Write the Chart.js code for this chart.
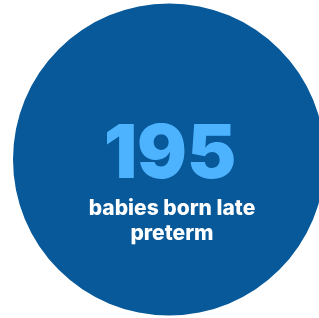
<!DOCTYPE html>
<html>
<head>
<meta charset="utf-8">
<script src="https://cdn.jsdelivr.net/npm/chart.js@4"></script>
<style>
  html, body { margin: 0; padding: 0; background: #ffffff; overflow: hidden; }
  #wrap { width: 338px; height: 318px; }
</style>
</head>
<body>
<div id="wrap"><canvas id="circleChart" width="338" height="318"></canvas></div>
<script>
// data
const categories = ["babies born late preterm"];
const values = [195];
const captionLines = ["babies born late", "preterm"];

// -------------------------
// CENTER TEXT
// -------------------------
const centerText = {
    id: "centerText",
    afterDraw(chart) {
        const ctx = chart.ctx;
        const area = chart.chartArea;
        const cx = (area.left + area.right) / 2 + 1;
        ctx.save();
        ctx.textAlign = "center";
        ctx.textBaseline = "alphabetic";

        ctx.fillStyle = "#4db3ff";
        ctx.font = "900 74px Inter";
        ctx.fillText(String(chart.data.datasets[0].data[0]), cx, 178);

        ctx.fillStyle = "#ffffff";
        ctx.font = "800 21px Inter";
        ctx.fillText(captionLines[0], cx + 2, 215);
        ctx.fillText(captionLines[1], cx + 2, 240);
        ctx.restore();
    }
};

const ctx = document.getElementById("circleChart").getContext("2d");

new Chart(ctx, {
    type: "pie",
    data: {
        labels: categories,
        datasets: [{
            data: values,
            backgroundColor: "#07599a",
            borderWidth: 0
        }]
    },
    options: {
        responsive: false,
        animation: false,
        layout: {
            padding: { left: 13, right: 13, top: 3.5, bottom: 2.5 }
        },
        plugins: {
            legend: { display: false },
            tooltip: { enabled: false }
        }
    },
    plugins: [centerText]
});
</script>
</body>
</html>
